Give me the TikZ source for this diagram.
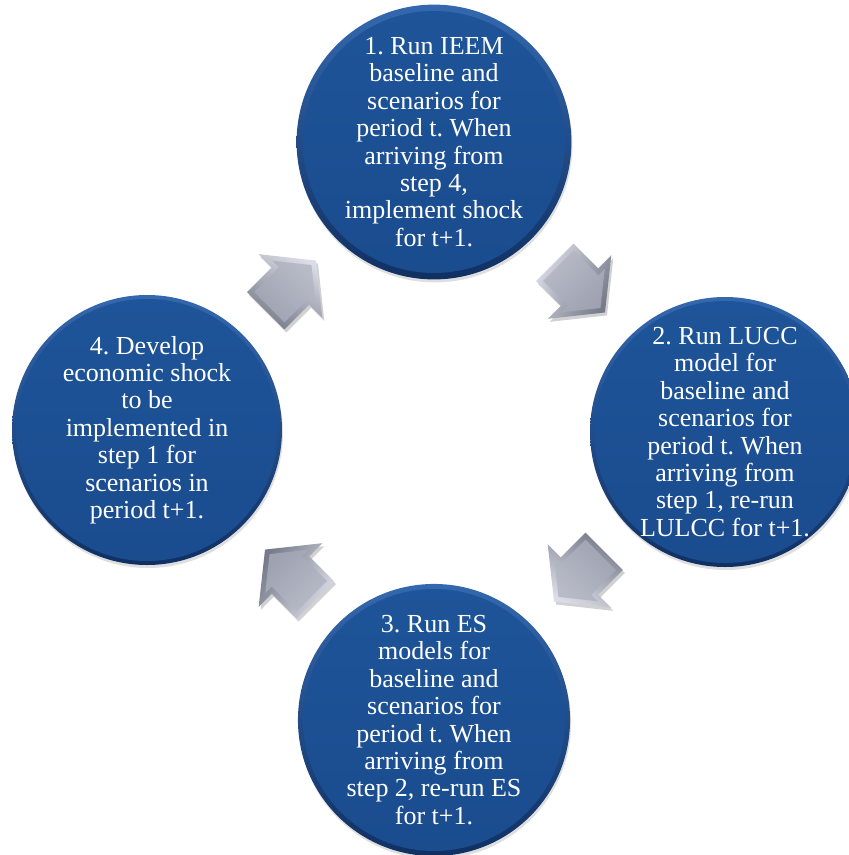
\documentclass[tikz,border=0pt]{standalone}
\usepackage{fontspec}
\setmainfont{Liberation Serif}
\usetikzlibrary{shadows,calc}
\definecolor{ballTop}{RGB}{52,104,174}
\definecolor{ballBot}{RGB}{16,48,98}
\definecolor{ballInTop}{RGB}{30,84,153}
\definecolor{ballInBot}{RGB}{26,76,142}
\definecolor{arrLight}{RGB}{218,221,230}
\definecolor{arrDark}{RGB}{118,122,138}
\definecolor{faceTop}{RGB}{184,187,199}
\definecolor{faceBot}{RGB}{158,162,177}
\tikzset{
  stepball/.style={circle, minimum size=270pt, inner sep=0pt, text=white,
    align=center, font=\fontsize{26}{27.4}\selectfont,
    top color=ballTop, bottom color=ballBot,
    drop shadow={opacity=0.25, shadow xshift=1pt, shadow yshift=-3pt},
    path picture={\shade[top color=ballInTop, bottom color=ballInBot]
      (path picture bounding box.center) circle (131pt);}},
  arrowbevel/.style={top color=arrLight, bottom color=arrDark, shading angle=#1},
  arrowface/.style={top color=faceTop, bottom color=faceBot, shading angle=#1},
  arrowshadow/.style={fill=black, opacity=0.18}
}
\newcommand\cyclearrow[2]{%
  \begin{scope}[shift={#1}, shift={(2,3)}, rotate=#2]
    \fill[arrowshadow] (-35,-26.5) -- (0,-26.5) -- (0,-45) -- (36,0) -- (0,45) -- (0,26.5) -- (-35,26.5) -- cycle;
  \end{scope}
  \begin{scope}[shift={#1}, rotate=#2]
    \shade[arrowbevel=-#2+15] (-35,-26.5) -- (0,-26.5) -- (0,-45) -- (36,0) -- (0,45) -- (0,26.5) -- (-35,26.5) -- cycle;
    \shade[arrowface=-#2] (-30,-21.5) -- (5,-21.5) -- (5,-30.75) -- (29.6,0) -- (5,30.75) -- (5,21.5) -- (-30,21.5) -- cycle;
  \end{scope}}
\begin{document}
\frenchspacing
\begin{tikzpicture}[x=1pt, y=-1pt]
\useasboundingbox (0,0) rectangle (849,855);
\clip (0,0) rectangle (849,855);
\node[stepball] (c1) at (434,142) {1. Run IEEM\\baseline and\\scenarios for\\period t. When\\arriving from\\step 4,\\implement shock\\for t+1.};
\node[stepball] (c2) at (725,432) {2. Run LUCC\\model for\\baseline and\\scenarios for\\period t. When\\arriving from\\step 1, re-run\\LULCC for t+1.};
\node[stepball] (c3) at (434,720) {3. Run ES\\models for\\baseline and\\scenarios for\\period t. When\\arriving from\\step 2, re-run ES\\for t+1.};
\node[stepball] (c4) at (147,430) {4. Develop\\economic shock\\to be\\implemented in\\step 1 for\\scenarios in\\period t+1.};
\cyclearrow{($(c4)!0.5!(c1)$)}{45}
\cyclearrow{($(c1)!0.5!(c2)$)}{-45}
\cyclearrow{($(c2)!0.5!(c3)$)}{-135}
\cyclearrow{($(c3)!0.5!(c4)$)}{135}
\end{tikzpicture}
\end{document}
